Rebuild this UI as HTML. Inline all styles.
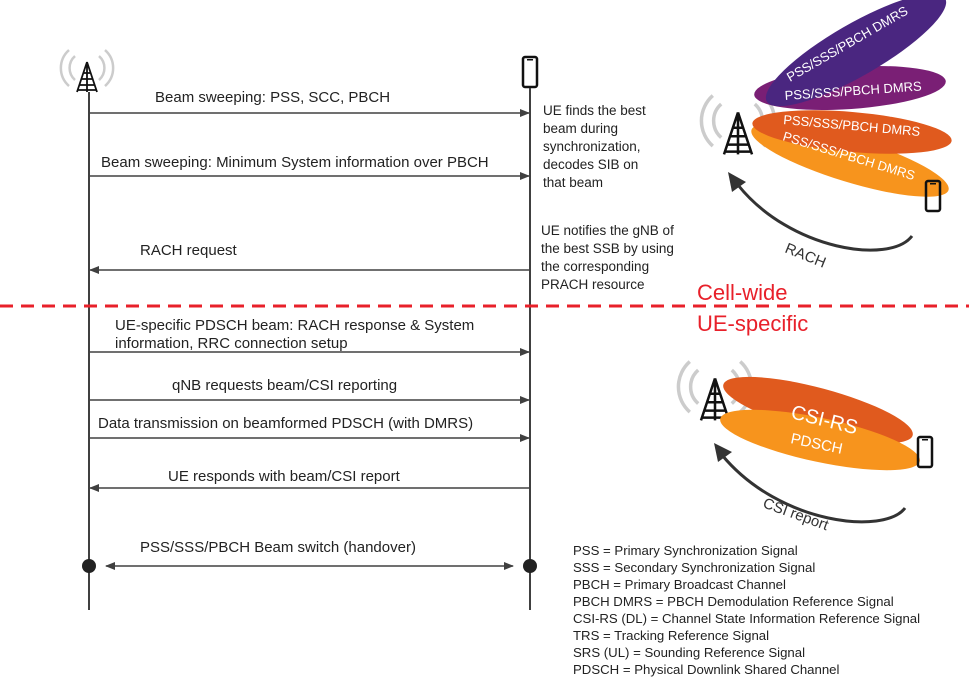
<!DOCTYPE html>
<html><head><meta charset="utf-8"><style>
body{margin:0;background:#fff;}
svg{display:block;font-family:"Liberation Sans",sans-serif;}
</style></head><body>
<svg width="969" height="687" viewBox="0 0 969 687" xmlns="http://www.w3.org/2000/svg">
<defs>
<marker id="ah" markerWidth="10" markerHeight="8" refX="9" refY="4" orient="auto" markerUnits="userSpaceOnUse"><path d="M0,0 L10,4 L0,8 z" fill="#404040"/></marker>
<marker id="ahs" markerWidth="10" markerHeight="8" refX="1" refY="4" orient="auto" markerUnits="userSpaceOnUse"><path d="M10,0 L0,4 L10,8 z" fill="#404040"/></marker>
<g id="tower">
<path d="M-12,-20 A16,16 0 0 0 -12,4 M12,-20 A16,16 0 0 1 12,4 M-18,-26 A24,24 0 0 0 -18,10 M18,-26 A24,24 0 0 1 18,10" stroke="#ccc" stroke-width="2.5" fill="none"/>
<path d="M0,-14 L-10,16 M0,-14 L10,16 M0,-14 L0,16 M-4,-3 L4,-3 M-6,3 L6,3 M-8,9 L8,9 M-9,14 L9,14" stroke="#111" stroke-width="1.8" fill="none"/>
</g>
<g id="phone"><rect x="-7" y="-15" width="14" height="30" rx="2" fill="none" stroke="#111" stroke-width="2.5"/><rect x="-3" y="-13" width="6" height="1.5" fill="#111"/></g>
</defs>

<use href="#tower" x="87" y="76"/>
<line x1="89" y1="92" x2="89" y2="610" stroke="#404040" stroke-width="2"/>
<use href="#phone" x="530" y="72"/>
<line x1="530" y1="88" x2="530" y2="610" stroke="#404040" stroke-width="2"/>

<g stroke="#404040" stroke-width="1.6">
<line x1="89" y1="113" x2="529" y2="113" marker-end="url(#ah)"/>
<line x1="89" y1="176" x2="529" y2="176" marker-end="url(#ah)"/>
<line x1="530" y1="270" x2="90" y2="270" marker-end="url(#ah)"/>
<line x1="89" y1="352" x2="529" y2="352" marker-end="url(#ah)"/>
<line x1="89" y1="400" x2="529" y2="400" marker-end="url(#ah)"/>
<line x1="89" y1="438" x2="529" y2="438" marker-end="url(#ah)"/>
<line x1="530" y1="488" x2="90" y2="488" marker-end="url(#ah)"/>
<line x1="106" y1="566" x2="513" y2="566" marker-end="url(#ah)" marker-start="url(#ahs)"/>
</g>
<circle cx="89" cy="566" r="7" fill="#222"/>
<circle cx="530" cy="566" r="7" fill="#222"/>

<g font-size="15" fill="#222">
<text x="155" y="102">Beam sweeping: PSS, SCC, PBCH</text>
<text x="101" y="167">Beam sweeping:  Minimum System information over PBCH</text>
<text x="140" y="255">RACH request</text>
<text x="115" y="330">UE-specific PDSCH beam: RACH response &amp; System</text>
<text x="115" y="348">information, RRC connection setup</text>
<text x="172" y="390">qNB requests beam/CSI reporting</text>
<text x="98" y="428">Data transmission on beamformed PDSCH (with DMRS)</text>
<text x="168" y="481">UE responds with beam/CSI report</text>
<text x="140" y="552">PSS/SSS/PBCH Beam switch (handover)</text>
</g>
<g font-size="13.5" fill="#222">
<text x="543" y="115">UE finds the best</text>
<text x="543" y="133">beam during</text>
<text x="543" y="151">synchronization,</text>
<text x="543" y="169">decodes SIB on</text>
<text x="543" y="187">that beam</text>
<text x="541" y="235">UE notifies the gNB of</text>
<text x="541" y="253">the best SSB by using</text>
<text x="541" y="271">the corresponding</text>
<text x="541" y="289">PRACH resource</text>
</g>

<line x1="0" y1="306" x2="969" y2="306" stroke="#e8202a" stroke-width="3" stroke-dasharray="13,8"/>
<text x="697" y="300" font-size="22" fill="#e8202a">Cell-wide</text>
<text x="697" y="331" font-size="22" fill="#e8202a">UE-specific</text>

<!-- top right beams -->
<g transform="translate(738 132) scale(1.4)"><use href="#tower"/></g>
<ellipse cx="850" cy="160" rx="103" ry="22" fill="#f7941d" transform="rotate(17 850 160)"/>
<ellipse cx="852" cy="132" rx="100" ry="20" fill="#e05a1e" transform="rotate(5 852 132)"/>
<ellipse cx="850" cy="88" rx="96" ry="21" fill="#7a1f75" transform="rotate(-4 850 88)"/>
<ellipse cx="856" cy="50" rx="103" ry="26" fill="#4a2680" transform="rotate(-30 856 50)"/>
<g fill="#fff" font-size="13">
<text transform="translate(790 82) rotate(-30)">PSS/SSS/PBCH DMRS</text>
<text transform="translate(785 100) rotate(-4)">PSS/SSS/PBCH DMRS</text>
<text transform="translate(783 124) rotate(5)">PSS/SSS/PBCH DMRS</text>
<text transform="translate(782 140) rotate(17)">PSS/SSS/PBCH DMRS</text>
</g>
<use href="#phone" x="933" y="196"/>
<path d="M912,236 C890,265 790,250 738,185" stroke="#333" stroke-width="3" fill="none"/>
<path d="M728,172 L746,182 L732,192 z" fill="#333"/>
<text transform="translate(784 252) rotate(22)" font-size="15" fill="#333">RACH</text>

<!-- bottom right beams -->
<g transform="translate(715 398) scale(1.4)"><use href="#tower"/></g>
<ellipse cx="818" cy="410" rx="98" ry="22" fill="#e05a1e" transform="rotate(15 818 410)"/>
<ellipse cx="820" cy="440" rx="102" ry="22" fill="#f7941d" transform="rotate(12 820 440)"/>
<text transform="translate(790 418) rotate(14)" font-size="20" fill="#fff">CSI-RS</text>
<text transform="translate(790 443) rotate(12)" font-size="15" fill="#fff">PDSCH</text>
<use href="#phone" x="925" y="452"/>
<path d="M905,508 C885,535 780,525 722,455" stroke="#333" stroke-width="3" fill="none"/>
<path d="M714,443 L732,452 L718,462 z" fill="#333"/>
<text transform="translate(762 507) rotate(20)" font-size="15" fill="#333">CSI report</text>

<g font-size="13.2" fill="#222">
<text x="573" y="555">PSS = Primary Synchronization Signal</text>
<text x="573" y="572">SSS = Secondary Synchronization Signal</text>
<text x="573" y="589">PBCH = Primary Broadcast Channel</text>
<text x="573" y="606">PBCH DMRS = PBCH Demodulation Reference Signal</text>
<text x="573" y="623">CSI-RS (DL) = Channel State Information Reference Signal</text>
<text x="573" y="640">TRS = Tracking Reference Signal</text>
<text x="573" y="657">SRS (UL) = Sounding Reference Signal</text>
<text x="573" y="674">PDSCH = Physical Downlink Shared Channel</text>
</g>
</svg>
</body></html>
